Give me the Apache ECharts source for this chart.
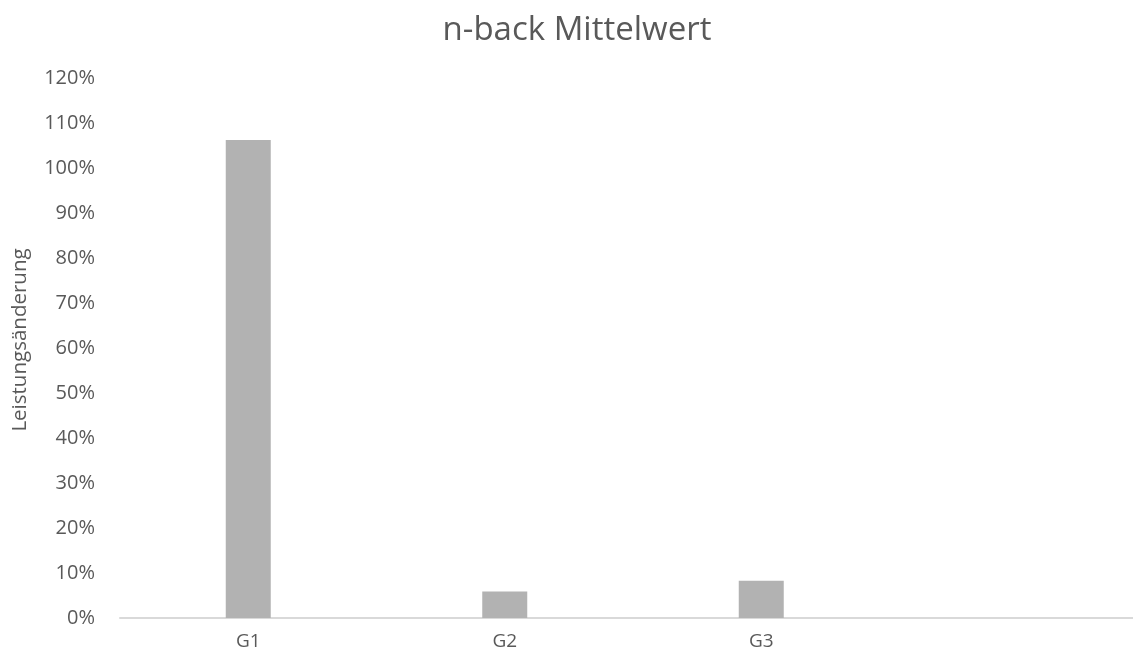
<!DOCTYPE html>
<html>
<head>
<meta charset="utf-8">
<script src="https://cdn.jsdelivr.net/npm/echarts@6/dist/echarts.min.js"></script>
<style>
  html, body { margin: 0; padding: 0; background: #ffffff; overflow: hidden; }
  #chart { width: 1146px; height: 658px; }
</style>
</head>
<body>
<div id="chart"></div>
<script>
// Mean change in n-back performance per group (fractions, 1 = 100%)
const titleText = 'n-back Mittelwert';
const yAxisName = 'Leistungsänderung';
const categories = ['G1', 'G2', 'G3', ''];
const values = [1.062, 0.059, 0.083, null];
const yMin = 0;
const yMax = 1.2;
const yStep = 0.1;

const textColor = '#595959';
const fontFamily = '"Open Sans", "Noto Sans", sans-serif';

const chart = echarts.init(document.getElementById('chart'), null, { renderer: 'canvas' });

chart.setOption({
  backgroundColor: '#ffffff',
  animation: false,
  title: {
    text: titleText,
    left: 572,
    top: 9,
    textAlign: 'center',
    textStyle: {
      color: textColor,
      fontFamily: fontFamily,
      fontWeight: 'normal',
      fontSize: 33
    }
  },
  grid: {
    left: 120,
    right: 0,
    top: 78,
    bottom: 40,
    containLabel: false
  },
  xAxis: {
    type: 'category',
    data: categories,
    axisLine: { show: true, lineStyle: { color: '#d9d9d9', width: 2 } },
    axisTick: { show: false },
    axisLabel: {
      color: textColor,
      fontFamily: fontFamily,
      fontSize: 19,
      margin: 14
    },
    splitLine: { show: false }
  },
  yAxis: {
    type: 'value',
    min: yMin,
    max: yMax,
    interval: yStep,
    name: yAxisName,
    nameLocation: 'middle',
    nameRotate: 90,
    nameGap: 89,
    nameTextStyle: {
      color: textColor,
      fontFamily: fontFamily,
      fontSize: 20.5,
      padding: [0, 0, 0, 16]
    },
    axisLine: { show: false },
    axisTick: { show: false },
    splitLine: { show: false },
    axisLabel: {
      color: textColor,
      fontFamily: fontFamily,
      fontSize: 20,
      margin: 25,
      formatter: v => Math.round(v * 100) + '%'
    }
  },
  series: [{
    type: 'bar',
    data: values,
    barWidth: 45,
    itemStyle: { color: '#b2b2b2' }
  }]
});
</script>
</body>
</html>
